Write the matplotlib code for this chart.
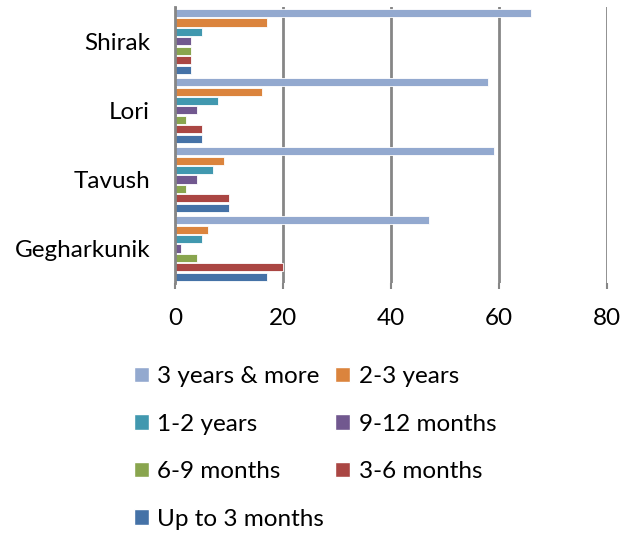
import numpy as np
import matplotlib
matplotlib.use('Agg')
import matplotlib.pyplot as plt
from matplotlib.patches import Patch

plt.rcParams['font.family'] = ['Lato', 'DejaVu Sans']

regions = ['Shirak', 'Lori', 'Tavush', 'Gegharkunik']
series = ['3 years & more', '2-3 years', '1-2 years', '9-12 months',
          '6-9 months', '3-6 months', 'Up to 3 months']
colors = ['#93A9CF', '#DB843D', '#4198AF', '#71588F',
          '#89A54E', '#AA4643', '#4572A7']

years_3_more = [66, 58, 59, 47]
years_2_3 = [17, 16, 9, 6]
years_1_2 = [5, 8, 7, 5]
months_9_12 = [3, 4, 4, 1]
months_6_9 = [3, 2, 2, 4]
months_3_6 = [3, 5, 10, 20]
months_up_3 = [3, 5, 10, 17]
values = [years_3_more, years_2_3, years_1_2, months_9_12,
          months_6_9, months_3_6, months_up_3]

fig = plt.figure(figsize=(6.3, 5.33), dpi=100)
ax = fig.add_axes([0.278, 0.469, 0.6855, 0.518])

n = len(series)
slot = 0.96 / n
y_base = np.arange(len(regions))[::-1]  # Shirak on top
for i, (name, vals, c) in enumerate(zip(series, values, colors)):
    y = y_base + 0.48 - slot * (i + 0.5)
    ax.barh(y, vals, height=slot * 0.85, color=c, edgecolor='white',
            linewidth=0.6, label=name, zorder=3)

ax.set_xlim(0, 80)
ax.set_ylim(-0.5, len(regions) - 0.5)
ax.set_xticks([0, 20, 40, 60, 80])
ax.set_yticks(y_base)
ax.set_yticklabels(regions)
ax.grid(axis='x', color='#868686', linewidth=2, zorder=0)
for s in ['top', 'right', 'bottom']:
    ax.spines[s].set_visible(False)
ax.spines['left'].set_color('#868686')
ax.spines['left'].set_linewidth(2)
ax.spines['left'].set_zorder(4)
ax.tick_params(axis='y', length=0, labelsize=17.5, pad=18)
ax.tick_params(axis='x', length=4, width=1.5, color='#868686',
               labelsize=17.5, pad=14)

# legend laid out row by row: reorder for column-major filling
order = [0, 2, 4, 6, 1, 3, 5]
handles = [Patch(facecolor=colors[k], edgecolor='white') for k in order]
labels = [series[k] for k in order]
fig.legend(handles, labels, ncol=2, loc='upper left',
           bbox_to_anchor=(0.212, 0.313), frameon=False, fontsize=17.5,
           borderpad=0, borderaxespad=0,
           handlelength=0.62, handleheight=0.62, handletextpad=0.35,
           columnspacing=0.45, labelspacing=1.09)

plt.savefig('out.png', dpi=100)
